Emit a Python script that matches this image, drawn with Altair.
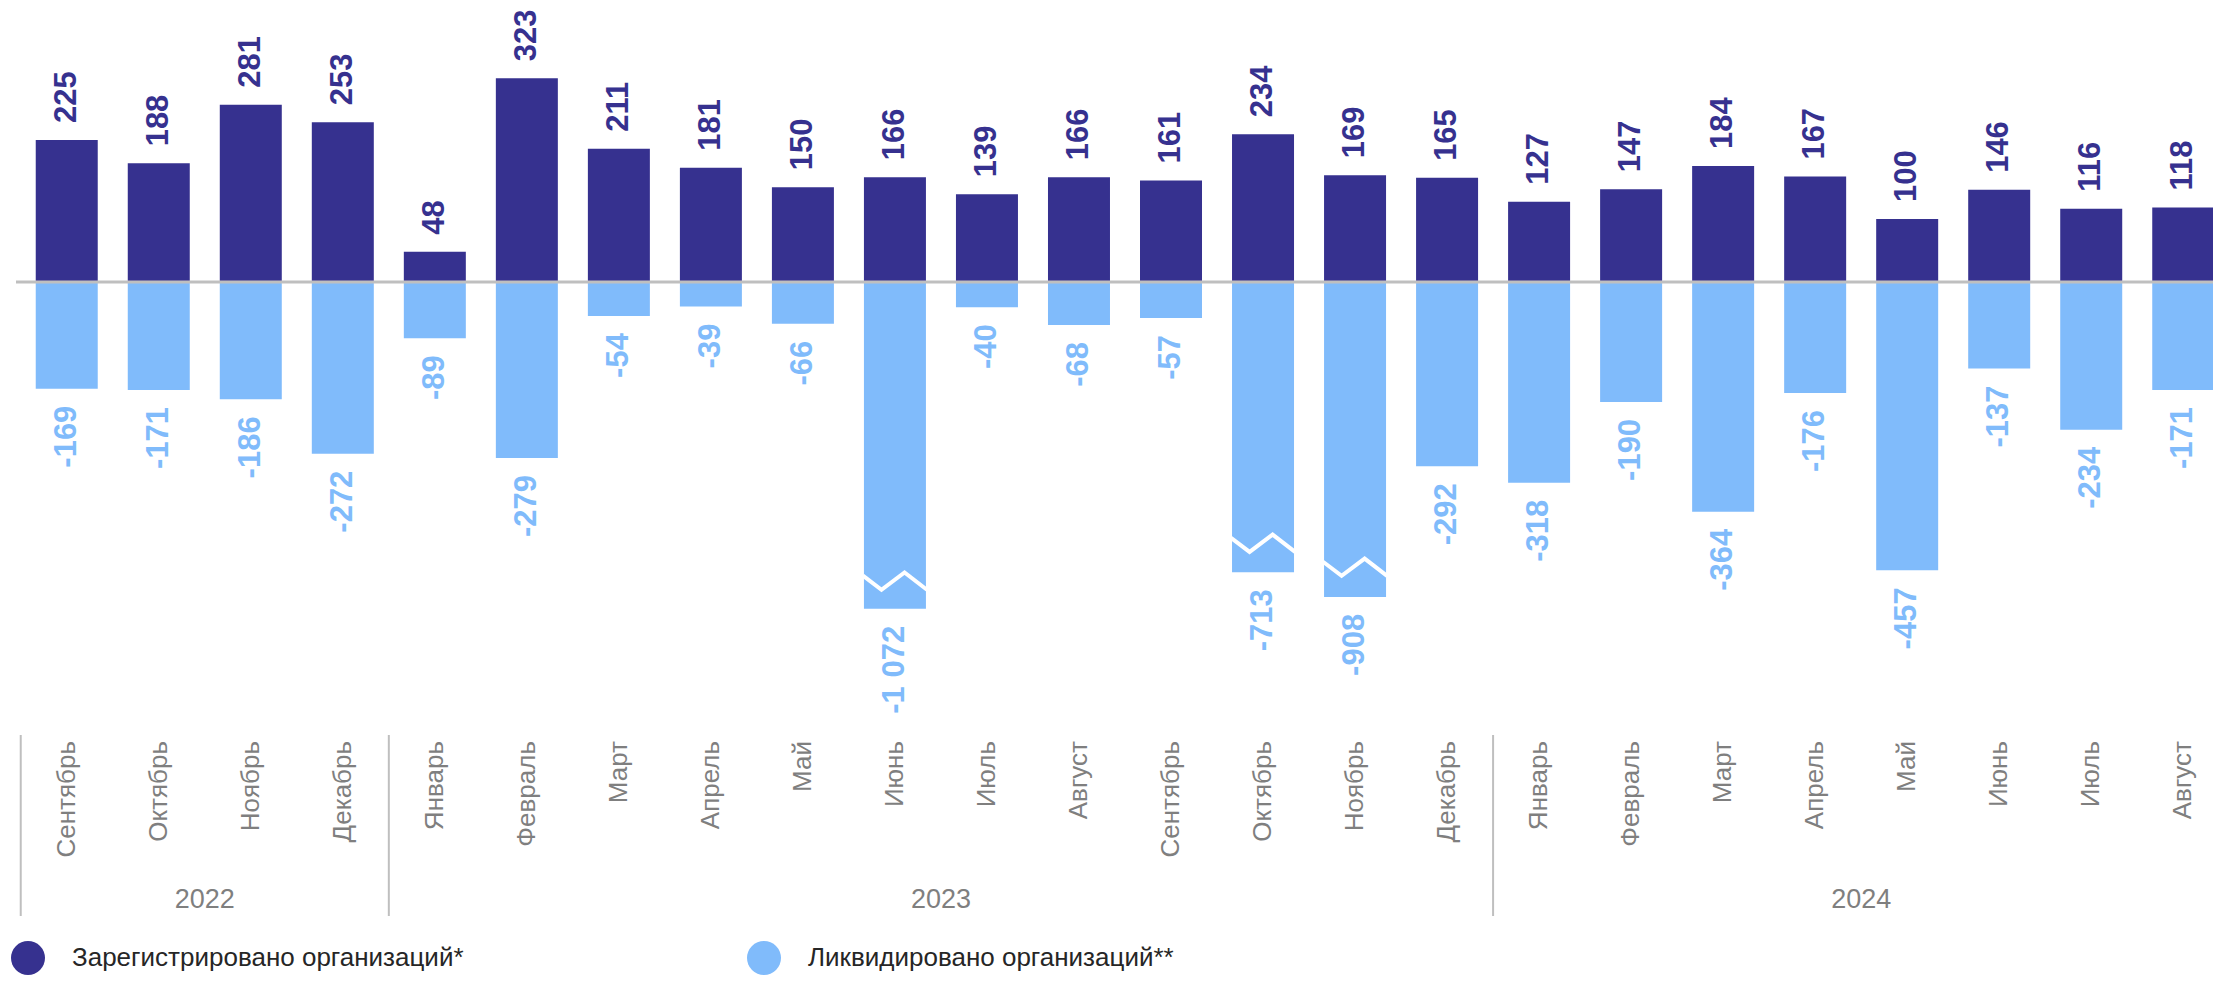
import altair as alt
import pandas as pd

# ---------------- data ----------------
months = ["Сентябрь", "Октябрь", "Ноябрь", "Декабрь",
          "Январь", "Февраль", "Март", "Апрель", "Май", "Июнь", "Июль", "Август",
          "Сентябрь", "Октябрь", "Ноябрь", "Декабрь",
          "Январь", "Февраль", "Март", "Апрель", "Май", "Июнь", "Июль", "Август"]
years = [2022] * 4 + [2023] * 12 + [2024] * 8

registered = [225, 188, 281, 253, 48, 323, 211, 181, 150, 166, 139, 166,
              161, 234, 169, 165, 127, 147, 184, 167, 100, 146, 116, 118]
liquidated = [-169, -171, -186, -272, -89, -279, -54, -39, -66, -1072, -40, -68,
              -57, -713, -908, -292, -318, -190, -364, -176, -457, -137, -234, -171]
# bar lengths as drawn (three bars are shortened with a scale break)
liquidated_drawn = [-169, -171, -186, -272, -89, -279, -54, -39, -66, -518, -40, -68,
                    -57, -460, -499, -292, -318, -190, -364, -176, -457, -137, -234, -171]
break_index = [9, 13, 14]
break_value = [-474, -414, -452]

SERIES = ["Зарегистрировано организаций*", "Ликвидировано организаций**"]
DARK = "#36318F"
LIGHT = "#80BBFB"
GRAY = "#7F7F7F"
FONT = "Liberation Sans"

n = len(months)
idx = list(range(n))

bars = pd.DataFrame({
    "i": idx * 2,
    "series": [SERIES[0]] * n + [SERIES[1]] * n,
    "value": registered + liquidated,
    "drawn": registered + liquidated_drawn,
})
bars["label"] = bars["value"].map(lambda v: f"{v:,}".replace(",", " "))

month_df = pd.DataFrame({"i": idx, "month": months, "year": years})
year_df = month_df.groupby("year", as_index=False).agg(center=("i", "mean"), start=("i", "min"), end=("i", "max"))
bounds = sorted(set((year_df["start"] - 0.5).tolist() + (year_df["end"] + 0.5).tolist()))
bound_df = pd.DataFrame({"b": bounds})
year_df["year_label"] = year_df["year"].astype(str)
break_df = pd.DataFrame({"i": break_index, "pos": break_value})

# ---------------- layout ----------------
W, H = 2205, 968
XS = alt.Scale(domain=[-0.584, 23.269], nice=False, zero=False)
YS = alt.Scale(domain=[-1099.8, 434.2], nice=False, zero=False)
X = alt.X("i:Q", scale=XS, axis=None)

bar = alt.Chart(bars).mark_bar(size=62).encode(
    x=X,
    y=alt.Y("drawn:Q", stack=None, scale=YS, axis=None),
    y2=alt.datum(0),
    color=alt.Color(
        "series:N",
        scale=alt.Scale(domain=SERIES, range=[DARK, LIGHT]),
        legend=alt.Legend(
            title=None, orient="none", legendX=3, legendY=933, direction="horizontal",
            symbolType="circle", symbolSize=1156, symbolStrokeWidth=0, symbolOpacity=1,
            labelFontSize=26, labelFont=FONT, labelColor="#262626", labelOffset=27,
            columnPadding=283, labelLimit=800, padding=0,
        ),
    ),
)

breaks = alt.Chart(break_df).mark_point(
    shape="M -1 -0.17 L -0.42 0.27 L 0.3 -0.27 L 1 0.27",
    filled=False, color="white", strokeWidth=4, size=4096, opacity=1,
).encode(x=X, y=alt.Y("pos:Q", scale=YS, axis=None))

zero_rule = alt.Chart(pd.DataFrame({"z": [0]})).mark_rule(color="#BFBFBF", strokeWidth=3).encode(
    y=alt.Y("z:Q", scale=YS, axis=None), x=alt.value(8), x2=alt.value(W)
)

pos_labels = alt.Chart(bars).transform_filter("datum.value > 0").mark_text(
    angle=270, align="left", baseline="middle", dx=17, fontSize=31, fontWeight="bold",
    font=FONT, color=DARK,
).encode(x=X, y=alt.Y("drawn:Q", scale=YS, axis=None), text="label:N")

neg_labels = alt.Chart(bars).transform_filter("datum.value < 0").mark_text(
    angle=270, align="right", baseline="middle", dx=-17, fontSize=31, fontWeight="bold",
    font=FONT, color=LIGHT,
).encode(x=X, y=alt.Y("drawn:Q", scale=YS, axis=None), text="label:N")

month_labels = alt.Chart(month_df).mark_text(
    angle=270, align="right", baseline="middle", fontSize=26, font=FONT, color=GRAY,
).encode(x=X, y=alt.value(733), text="month:N")

separators = alt.Chart(bound_df).mark_rule(color="#BFBFBF", strokeWidth=2).encode(
    x=alt.X("b:Q", scale=XS, axis=None), y=alt.value(727), y2=alt.value(908)
)

year_labels = alt.Chart(year_df).mark_text(
    align="center", baseline="alphabetic", fontSize=27, font=FONT, color=GRAY,
).encode(x=alt.X("center:Q", scale=XS, axis=None), y=alt.value(900), text="year_label:N")

chart = alt.layer(
    bar, breaks, zero_rule, pos_labels, neg_labels, month_labels, separators, year_labels
).properties(
    width=W, height=H, autosize=alt.AutoSizeParams(type="none"), padding=0,
).configure_view(stroke=None)

chart.save("out.html", embed_options={"renderer": "svg", "actions": False})
